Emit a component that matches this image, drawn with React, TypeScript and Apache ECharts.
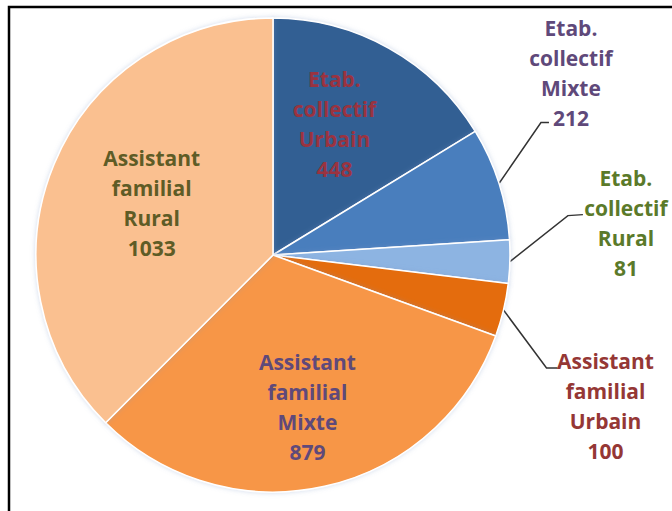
import React, { useEffect, useRef } from "react";
import * as echarts from "echarts";

const categories = [
  "Etab.\ncollectif\nUrbain",
  "Etab.\ncollectif\nMixte",
  "Etab.\ncollectif\nRural",
  "Assistant\nfamilial\nUrbain",
  "Assistant\nfamilial\nMixte",
  "Assistant\nfamilial\nRural",
];
const values = [448, 212, 81, 100, 879, 1033];

const sliceColors = ["#335e93", "#4a7ebd", "#8db4e2", "#e46c0a", "#f79646", "#fac090"];
const labelColors = ["#9a3340", "#5f497a", "#5b7a2a", "#953735", "#5f497a", "#5e5c26"];
const labelInside = [true, false, false, false, true, true];

// label placement tweaks (relative to the library's default label / leader start)
const insideShift: Record<number, [number, number]> = {
  0: [2, -25],
  4: [8, 33],
  5: [-9, -6],
};
const outsideLeader: Record<number, { elbow: [number, number]; end: [number, number]; label: [number, number] }> = {
  1: { elbow: [42, -61], end: [50, -61], label: [72, -111] },
  2: { elbow: [58, -46], end: [73, -47], label: [116, -39] },
  3: { elbow: [43, 58], end: [54, 58], label: [102, 96] },
};

export default function App() {
  const ref = useRef<HTMLDivElement>(null);
  useEffect(() => {
    document.body.style.margin = "0";
    const chart = echarts.init(ref.current!, undefined, { renderer: "svg" });
    const data = values.map((v, i) => ({
      name: categories[i],
      value: v,
      itemStyle: { color: sliceColors[i] },
      label: {
        position: labelInside[i] ? "inside" : "outside",
        color: labelColors[i],
      },
      labelLine: { show: !labelInside[i] },
    }));
    chart.setOption({
      animation: false,
      backgroundColor: "#ffffff",
      graphic: [
        {
          type: "rect",
          shape: { x: 9, y: 7, width: 700, height: 540 },
          style: { fill: "none", stroke: "#000000", lineWidth: 2.5 },
          z: 100,
        },
      ],
      series: [
        {
          type: "pie",
          center: [273, 255],
          radius: [0, 237],
          startAngle: 90,
          clockwise: true,
          avoidLabelOverlap: false,
          itemStyle: {
            borderColor: "#ffffff",
            borderWidth: 1.5,
            shadowBlur: 5,
            shadowColor: "rgba(120,150,200,0.35)",
          },
          label: {
            show: true,
            formatter: "{b}\n{c}",
            fontFamily: "Open Sans",
            fontWeight: "bold",
            fontSize: 21,
            lineHeight: 30,
            align: "center",
          },
          labelLine: {
            show: true,
            lineStyle: { color: "#333333", width: 1.5 },
          },
          labelLayout: (params: any) => {
            const i = params.dataIndex;
            if (insideShift[i]) {
              return { dx: insideShift[i][0], dy: insideShift[i][1], align: "center" };
            }
            const cfg = outsideLeader[i];
            if (cfg && params.labelLinePoints) {
              const s = params.labelLinePoints[0];
              return {
                x: s[0] + cfg.label[0],
                y: s[1] + cfg.label[1],
                align: "center",
                verticalAlign: "middle",
                labelLinePoints: [
                  [s[0], s[1]],
                  [s[0] + cfg.elbow[0], s[1] + cfg.elbow[1]],
                  [s[0] + cfg.end[0], s[1] + cfg.end[1]],
                ],
              };
            }
            return {};
          },
          data,
        },
      ],
    });
    return () => chart.dispose();
  }, []);
  return <div ref={ref} style={{ width: 672, height: 511 }} />;
}
